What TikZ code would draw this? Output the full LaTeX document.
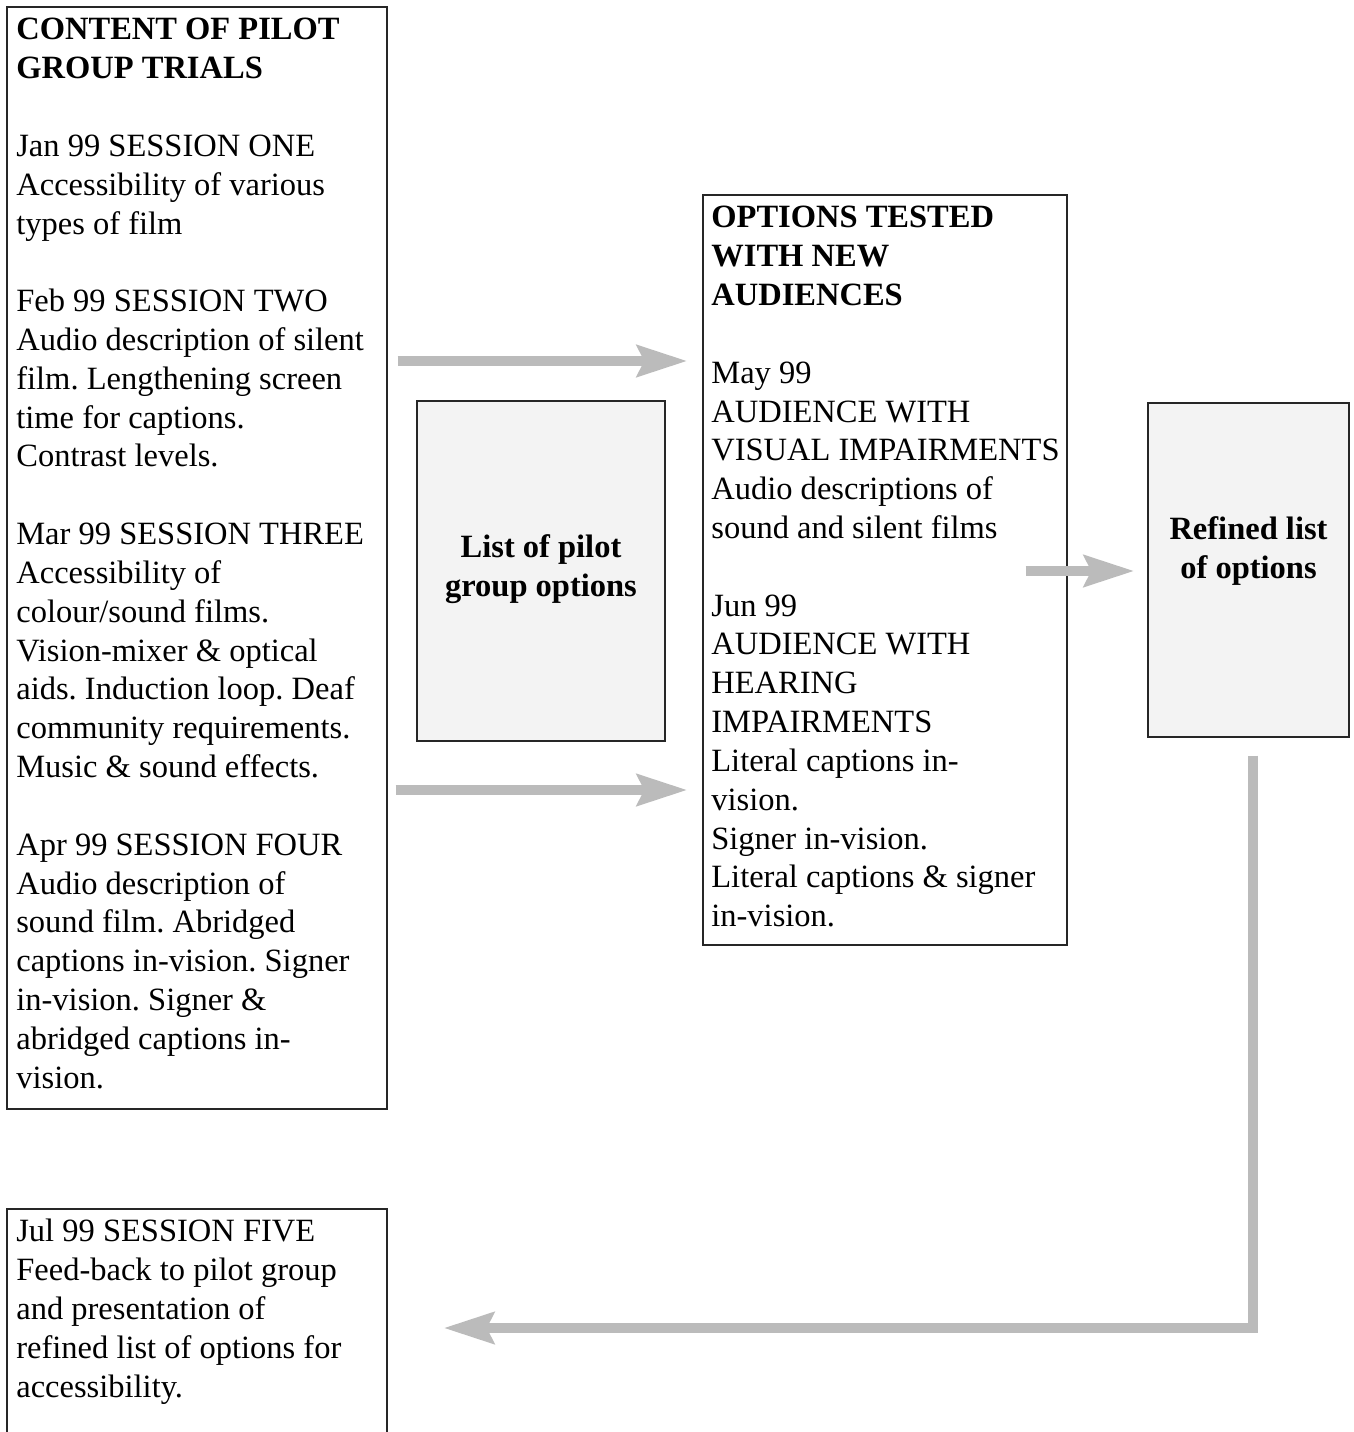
\documentclass[tikz,border=0pt]{standalone}
\usepackage{fontspec}
\setmainfont{Liberation Serif}
\usepackage{tikz}
\usetikzlibrary{arrows.meta, positioning}

\definecolor{arrgray}{HTML}{BBBBBB}
\definecolor{boxfill}{HTML}{F3F3F3}

\begin{document}
\frenchspacing
\begin{tikzpicture}[x=0.02cm, y=-0.02cm,
      box/.style={draw=black!85, line width=0.8pt, inner sep=0pt},
      optbox/.style={box, fill=boxfill},
      txt/.style={align=left, inner sep=0pt, anchor=north west,
                  font=\fontsize{18.5}{22.1}\selectfont},
      ctxt/.style={align=center, inner sep=0pt,
                  font=\fontsize{18.5}{22.1}\selectfont\bfseries},
      flow/.style={draw=arrgray, line width=0.2cm,
                  -{Stealth[length=1cm, width=0.62cm, inset=0.14cm, fill=arrgray]}}]

    \useasboundingbox (0,0) rectangle (1353,1432);
    \clip (0,0) rectangle (1353,1432);

    % ---- Left column: pilot group sessions ----
    \node[box, minimum width=7.6cm, minimum height=22.04cm] (content) at (197,558) {};
    \node[txt] (contenttxt) at (16,18) {\textbf{CONTENT OF PILOT}\\
      \textbf{GROUP TRIALS}\\[\baselineskip]
      Jan 99 SESSION ONE\\
      Accessibility of various\\
      types of film\\[\baselineskip]
      Feb 99 SESSION TWO\\
      Audio description of silent\\
      film. Lengthening screen\\
      time for captions.\\
      Contrast levels.\\[\baselineskip]
      Mar 99 SESSION THREE\\
      Accessibility of\\
      colour/sound films.\\
      Vision-mixer \& optical\\
      aids. Induction loop. Deaf\\
      community requirements.\\
      Music \& sound effects.\\[\baselineskip]
      Apr 99 SESSION FOUR\\
      Audio description of\\
      sound film. Abridged\\
      captions in-vision. Signer\\
      in-vision. Signer \&\\
      abridged captions in-\\
      vision.};

    \node[box, minimum width=7.6cm, minimum height=6cm] (five) at (197,1359) {};
    \node[txt] (fivetxt) at (16,1219) {Jul 99 SESSION FIVE\\
      Feed-back to pilot group\\
      and presentation of\\
      refined list of options for\\
      accessibility.};

    % ---- Middle: options list and tests ----
    \node[optbox, minimum width=4.96cm, minimum height=6.8cm] (pilot) at (541,571) {};
    \node[ctxt] (pilottxt) at (541,569) {List of pilot\\group options};

    \node[box, minimum width=7.28cm, minimum height=15cm] (tested) at (885,570) {};
    \node[txt] (testedtxt) at (711,206) {\textbf{OPTIONS TESTED}\\
      \textbf{WITH NEW}\\
      \textbf{AUDIENCES}\\[\baselineskip]
      May 99\\
      AUDIENCE WITH\\
      VISUAL IMPAIRMENTS\\
      Audio descriptions of\\
      sound and silent films\\[\baselineskip]
      Jun 99\\
      AUDIENCE WITH\\
      HEARING\\
      IMPAIRMENTS\\
      Literal captions in-\\
      vision.\\
      Signer in-vision.\\
      Literal captions \& signer\\
      in-vision.};

    % ---- Right: refined list ----
    \node[optbox, minimum width=4.02cm, minimum height=6.68cm] (refined) at (1248.5,570) {};
    \node[ctxt] (refinedtxt) at (1248.5,551) {Refined list\\of options};

    % ---- Flow arrows ----
    \coordinate (rowA) at (0,361);
    \coordinate (rowB) at (0,790);
    \coordinate (rowC) at (0,571);
    \coordinate (turn) at (1253,1328);

    \draw[flow] ([xshift=0.2cm]content.east |- rowA) -- ([xshift=-0.3cm]tested.west |- rowA);
    \draw[flow] ([xshift=0.16cm]content.east |- rowB) -- ([xshift=-0.3cm]tested.west |- rowB);
    \draw[flow] ([xshift=-0.84cm]tested.east |- rowC) -- ([xshift=-0.26cm]refined.west |- rowC);
    \draw[flow] ([yshift=-0.36cm]refined.south -| turn) -- (turn) -- ([xshift=1.12cm]five.east |- turn);

\end{tikzpicture}
\end{document}
